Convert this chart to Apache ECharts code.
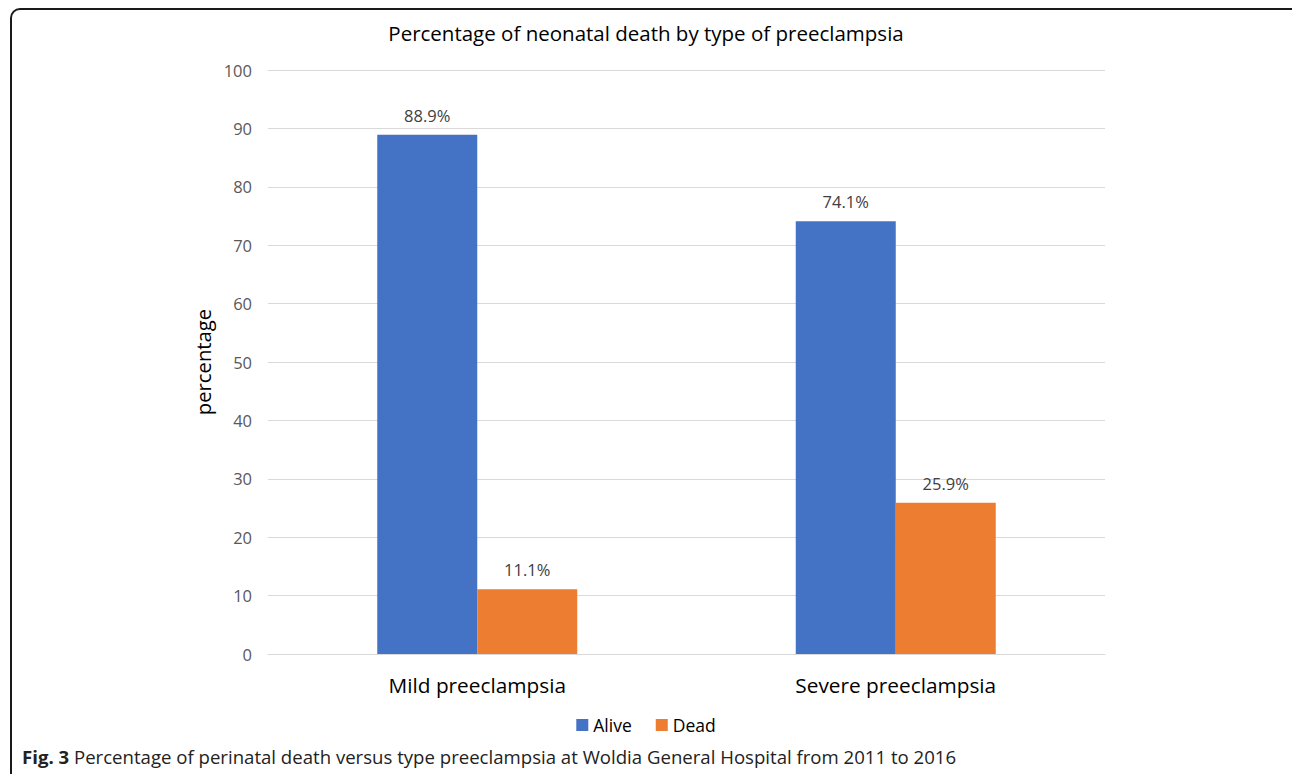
<!DOCTYPE html>
<html>
<head>
<meta charset="utf-8">
<script src="https://cdn.jsdelivr.net/npm/echarts@6/dist/echarts.min.js"></script>
<style>
html,body{margin:0;padding:0;background:#fff;}
#frame{position:absolute;left:10px;top:8px;width:1300px;height:800px;border:2px solid #1a1a1a;border-radius:10px;box-sizing:border-box;}
#chart{position:absolute;left:0;top:0;width:1292px;height:774px;}
</style>
</head>
<body>
<div id="frame"></div>
<div id="chart"></div>
<script>
const categories = ['Mild preeclampsia', 'Severe preeclampsia'];
const seriesNames = ['Alive', 'Dead'];
const aliveValues = [88.9, 74.1];
const deadValues = [11.1, 25.9];
const yTicks = [0, 10, 20, 30, 40, 50, 60, 70, 80, 90, 100];

const FONT = 'Open Sans';
const chart = echarts.init(document.getElementById('chart'), null, {renderer: 'svg'});
const labelOpt = {
  show: true, position: 'top', distance: 11,
  formatter: p => p.value.toFixed(1) + '%',
  color: '#404040', fontSize: 16.5, fontFamily: FONT
};
chart.setOption({
  animation: false,
  title: {
    text: 'Percentage of neonatal death by type of preeclampsia',
    left: 'center', top: 17,
    textStyle: {fontFamily: FONT, fontWeight: 'normal', fontSize: 20.5, color: '#000'}
  },
  legend: {
    data: seriesNames, bottom: 35, left: 'center',
    itemWidth: 12, itemHeight: 12, itemGap: 24, icon: 'rect',
    textStyle: {fontFamily: FONT, fontSize: 17.5, color: '#000'}
  },
  grid: {left: 268, right: 187, top: 70, bottom: 120, containLabel: false},
  xAxis: {
    type: 'category', data: categories,
    axisLine: {lineStyle: {color: '#d9d9d9'}},
    axisTick: {show: false},
    axisLabel: {fontFamily: FONT, fontSize: 20.8, color: '#000', margin: 20}
  },
  yAxis: {
    type: 'value', min: 0, max: 100, interval: 10,
    name: 'percentage', nameLocation: 'middle', nameGap: 50,
    nameTextStyle: {fontFamily: FONT, fontSize: 20.3, color: '#000'},
    axisLine: {show: false}, axisTick: {show: false},
    axisLabel: {fontFamily: FONT, fontSize: 16.5, color: '#595959', margin: 16,
      formatter: v => yTicks.includes(v) ? String(v) : ''},
    splitLine: {lineStyle: {color: '#d9d9d9'}}
  },
  series: [
    {name: 'Alive', type: 'bar', data: aliveValues, barWidth: 100, barGap: '0%',
     itemStyle: {color: '#4472c4'}, label: labelOpt},
    {name: 'Dead', type: 'bar', data: deadValues, barWidth: 100,
     itemStyle: {color: '#ed7d31'}, label: labelOpt}
  ],
  graphic: [{
    type: 'text', left: 22, top: 747,
    style: {
      text: '{b|Fig. 3} Percentage of perinatal death versus type preeclampsia at Woldia General Hospital from 2011 to 2016',
      fontFamily: FONT, fontSize: 18.6, fill: '#222',
      rich: {b: {fontFamily: FONT, fontSize: 18.6, fontWeight: 'bold', fill: '#222'}}
    }
  }]
});
</script>
</body>
</html>
